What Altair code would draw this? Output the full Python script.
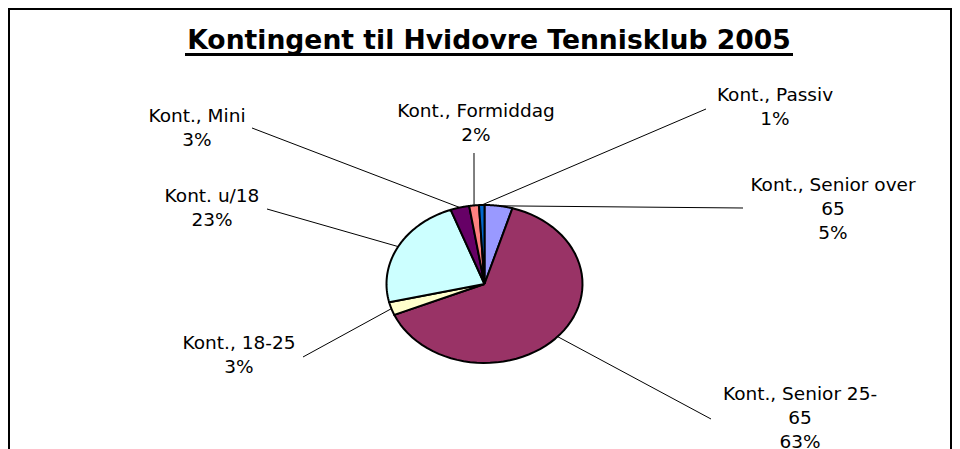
import altair as alt
import pandas as pd

# ---------------- data ----------------
categories = ["Kont., Senior over 65", "Kont., Senior 25-65", "Kont., 18-25",
              "Kont. u/18", "Kont., Mini", "Kont., Formiddag", "Kont., Passiv"]
values = [4.6, 64.0, 2.7, 23.1, 3.1, 1.6, 0.9]
label_lines = [["Kont., Senior over", "65", "5%"],
               ["Kont., Senior 25-", "65", "63%"],
               ["Kont., 18-25", "3%"],
               ["Kont. u/18", "23%"],
               ["Kont., Mini", "3%"],
               ["Kont., Formiddag", "2%"],
               ["Kont., Passiv", "1%"]]
title_text = "Kontingent til Hvidovre Tennisklub 2005"

# ---------------- style ----------------
colors = ["#9999FF", "#993366", "#FFFFCC", "#CCFFFF", "#660066", "#FF8080", "#0066CC"]
FONT = "DejaVu Sans"

# ---------------- layout (page pixel coordinates) ----------------
label_x = [833, 800, 239, 212, 197, 476, 775]
label_y = [191, 400, 349, 202, 122, 117, 101]
leader_x = [743, 711, 303, 267, 252, 474, 706]
leader_y = [208, 419, 357, 209, 128, 153, 109]
CX, CY, RX, RY = 484.5, 284.0, 98.0, 79.0
TITLE_X, TITLE_Y = 489, 49
UL_X1, UL_X2, UL_Y = 185, 793, 54.5
OX, OY = 9, 9          # page position of the view origin
W, H = 942, 470
N = 60                 # points per slice outline

xs = alt.Scale(domain=[OX, OX + W], nice=False, zero=False)
ys = alt.Scale(domain=[OY, OY + H], nice=False, zero=False, reverse=True)

slices = pd.DataFrame({"name": categories, "value": values,
                       "idx": list(range(len(categories))),
                       "lines": label_lines,
                       "lx": label_x, "ly": label_y,
                       "ex": leader_x, "ey": leader_y})

base = (alt.Chart(slices)
        .transform_window(cum="sum(value)", sort=[alt.SortField("idx")], frame=[None, 0])
        .transform_joinaggregate(total="sum(value)")
        .transform_calculate(a0="2*PI*(datum.cum-datum.value)/datum.total",
                             a1="2*PI*datum.cum/datum.total"))

pie = (base
       .transform_calculate(k=f"sequence(0, {N + 2})")
       .transform_flatten(["k"])
       .transform_calculate(
           t=f"clamp((datum.k-1)/{N - 1}, 0, 1)",
           ang="datum.a0+(datum.a1-datum.a0)*datum.t",
           inner=f"datum.k==0 || datum.k=={N + 1}",
           px=f"datum.inner ? {CX} : {CX}+{RX}*sin(datum.ang)",
           py=f"datum.inner ? {CY} : {CY}-{RY}*cos(datum.ang)")
       .mark_line(stroke="black", strokeWidth=2, strokeJoin="round")
       .encode(x=alt.X("px:Q", scale=xs, axis=None),
               y=alt.Y("py:Q", scale=ys, axis=None),
               detail="name:N",
               order=alt.Order("k:Q"),
               fill=alt.Fill("name:N", scale=alt.Scale(domain=categories, range=colors),
                             legend=None)))

leaders = (base
           .transform_calculate(mid="(datum.a0+datum.a1)/2")
           .transform_calculate(sx=f"{CX}+{RX}*sin(datum.mid)",
                                sy=f"{CY}-{RY}*cos(datum.mid)")
           .mark_rule(color="black", strokeWidth=1)
           .encode(x=alt.X("sx:Q", scale=xs, axis=None),
                   y=alt.Y("sy:Q", scale=ys, axis=None),
                   x2="ex:Q", y2="ey:Q"))

labels = (alt.Chart(slices)
          .mark_text(font=FONT, fontSize=18.5, align="center", baseline="alphabetic",
                     lineHeight=24, color="black")
          .encode(x=alt.X("lx:Q", scale=xs, axis=None),
                  y=alt.Y("ly:Q", scale=ys, axis=None),
                  text="lines"))

title_df = pd.DataFrame({"text": [title_text], "x": [TITLE_X], "y": [TITLE_Y],
                         "x1": [UL_X1], "x2": [UL_X2], "uy": [UL_Y]})
title = (alt.Chart(title_df)
         .mark_text(font=FONT, fontSize=26.6, fontWeight="bold", align="center",
                    baseline="alphabetic", color="black")
         .encode(x=alt.X("x:Q", scale=xs, axis=None),
                 y=alt.Y("y:Q", scale=ys, axis=None),
                 text="text"))
underline = (alt.Chart(title_df)
             .mark_rule(color="black", strokeWidth=3)
             .encode(x=alt.X("x1:Q", scale=xs, axis=None), x2="x2:Q",
                     y=alt.Y("uy:Q", scale=ys, axis=None)))

chart = (alt.layer(pie, leaders, labels, title, underline)
         .properties(width=W, height=H,
                     padding={"left": 1, "top": 1, "right": 1, "bottom": 1},
                     background="white")
         .configure_view(stroke="black", strokeWidth=2))

chart.save("out.html", embed_options={"renderer": "svg", "actions": False})
